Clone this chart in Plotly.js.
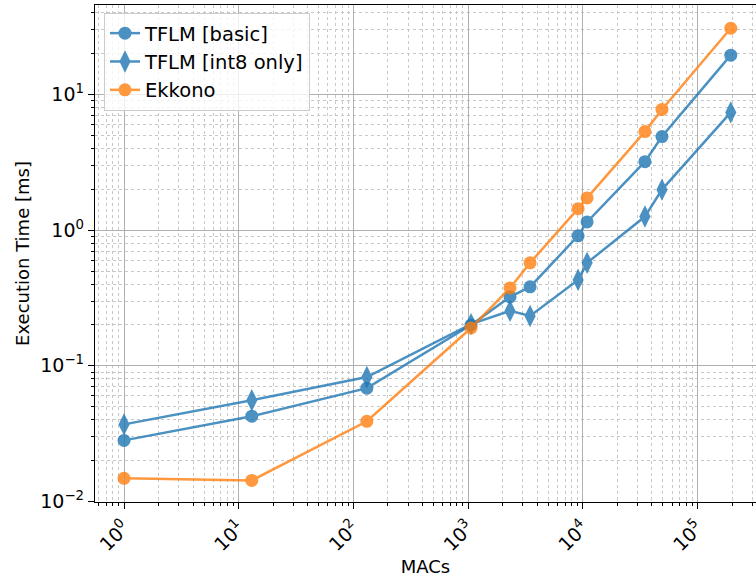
<!DOCTYPE html>
<html>
<head>
<meta charset="utf-8">
<script src="https://cdn.plot.ly/plotly-3.0.1.min.js"></script>
<style>html,body{margin:0;padding:0;background:#fff;}#chart{width:756px;height:584px;}</style>
</head>
<body>
<div id="chart"></div>
<script>
// Data
const macs = [1, 13, 131, 1060, 2320, 3470, 9100, 10900, 34800, 49000, 195000];
const tflmBasic = [0.0282, 0.0425, 0.0684, 0.200, 0.322, 0.382, 0.909, 1.15, 3.2, 4.9, 19.5];
const tflmInt8 = [0.037, 0.0557, 0.0826, 0.203, 0.254, 0.233, 0.43, 0.574, 1.26, 1.99, 7.38];
const ekkono = [0.0148, 0.0143, 0.039, 0.19, 0.375, 0.574, 1.44, 1.73, 5.33, 7.76, 30.8];
const seriesNames = ['TFLM [basic]', 'TFLM [int8 only]', 'Ekkono'];
const xTickVals = [1, 10, 100, 1000, 10000, 100000];
const xTickText = ['10<sup>0</sup>', '10<sup>1</sup>', '10<sup>2</sup>', '10<sup>3</sup>', '10<sup>4</sup>', '10<sup>5</sup>'];
const yTickVals = [0.01, 0.1, 1, 10];
const yTickText = ['10<sup>\u22122</sup>', '10<sup>\u22121</sup>', '10<sup>0</sup>', '10<sup>1</sup>'];

function minorVals(lo, hi) {
  const v = [];
  for (let e = lo; e <= hi; e++) for (let m = 2; m <= 9; m++) v.push(m * Math.pow(10, e));
  return v;
}

const blue = '#1f77b4', orange = '#ff7f0e';
const traces = [
  {x: macs, y: tflmBasic, name: seriesNames[0], mode: 'lines+markers', opacity: 0.8,
   line: {color: blue, width: 2.5}, marker: {symbol: 'circle', size: 13, color: blue}},
  {x: macs, y: tflmInt8, name: seriesNames[1], mode: 'lines+markers', opacity: 0.8,
   line: {color: blue, width: 2.5}, marker: {symbol: 'diamond-tall', size: 16, color: blue}},
  {x: macs, y: ekkono, name: seriesNames[2], mode: 'lines+markers', opacity: 0.8,
   line: {color: orange, width: 2.5}, marker: {symbol: 'circle', size: 13, color: orange}}
];

const font = {family: 'DejaVu Sans', size: 18, color: '#000'};
const tickFont = {family: 'DejaVu Sans', size: 19, color: '#000'};
const layout = {
  width: 756, height: 584,
  margin: {l: 95, r: 0, t: 5, b: 82},
  paper_bgcolor: '#fff', plot_bgcolor: '#fff',
  font: font,
  showlegend: true,
  legend: {x: 0.0136, y: 0.984, xanchor: 'left', yanchor: 'top',
    bgcolor: 'rgba(255,255,255,0.8)', bordercolor: '#cccccc', borderwidth: 1,
    font: {family: 'DejaVu Sans', size: 19.5, color: '#000'}},
  xaxis: {
    type: 'log', range: [-0.253, 5.51],
    tickmode: 'array', tickvals: xTickVals, ticktext: xTickText, tickangle: -45,
    ticks: 'outside', ticklen: 6, tickwidth: 1, tickcolor: '#000',
    showline: true, linecolor: '#000', linewidth: 1.2, mirror: true,
    showgrid: true, gridcolor: '#b0b0b0', gridwidth: 1,
    zeroline: false,
    minor: {tickmode: 'array', tickvals: minorVals(-1, 5), ticks: 'outside', ticklen: 3, tickcolor: '#000',
      showgrid: true, gridcolor: '#c8c8c8', griddash: 'dot', gridwidth: 1},
    title: {text: 'MACs', font: font, standoff: 6},
    tickfont: tickFont
  },
  yaxis: {
    type: 'log', range: [-2.004, 1.66],
    tickmode: 'array', tickvals: yTickVals, ticktext: yTickText,
    ticks: 'outside', ticklen: 6, tickwidth: 1, tickcolor: '#000',
    showline: true, linecolor: '#000', linewidth: 1.2, mirror: true,
    showgrid: true, gridcolor: '#b0b0b0', gridwidth: 1,
    zeroline: false,
    minor: {tickmode: 'array', tickvals: minorVals(-3, 1), ticks: 'outside', ticklen: 3, tickcolor: '#000',
      showgrid: true, gridcolor: '#c8c8c8', griddash: 'dot', gridwidth: 1},
    title: {text: 'Execution Time [ms]', font: font, standoff: 6},
    tickfont: tickFont
  }
};

Plotly.newPlot('chart', traces, layout, {displayModeBar: false, staticPlot: true});
</script>
</body>
</html>
